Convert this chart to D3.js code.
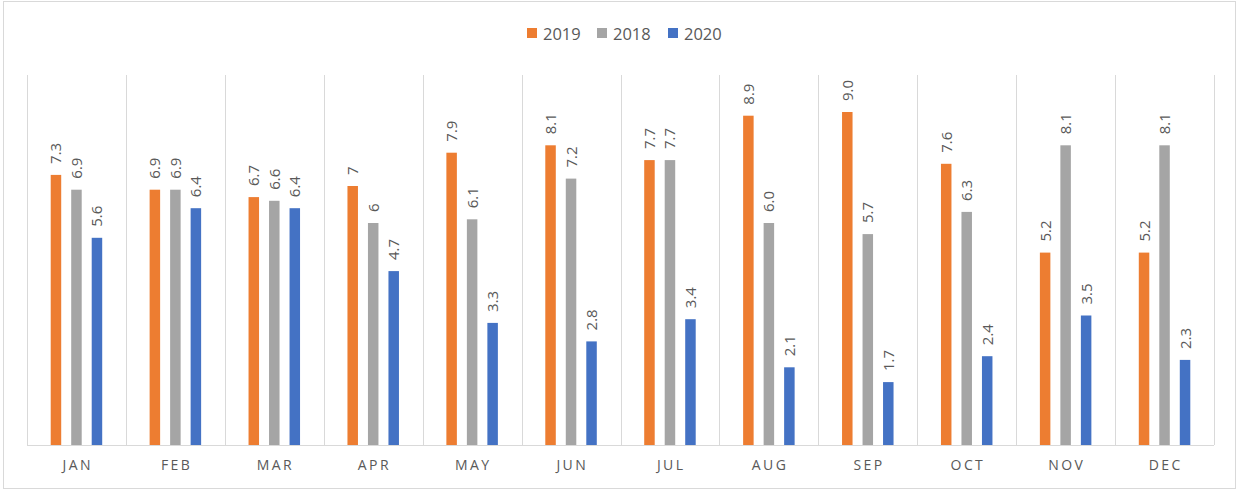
<!DOCTYPE html>
<html>
<head>
<meta charset="utf-8">
<script src="https://cdn.jsdelivr.net/npm/d3@7"></script>
<style>
  html, body { margin: 0; padding: 0; background: #fff; }
  svg { display: block; font-family: "Open Sans", "Liberation Sans", sans-serif; }
</style>
</head>
<body>
<svg id="chart" width="1239" height="491"></svg>
<script>
// Monthly values per year
const months = ["JAN", "FEB", "MAR", "APR", "MAY", "JUN", "JUL", "AUG", "SEP", "OCT", "NOV", "DEC"];
const seriesNames = ["2019", "2018", "2020"];
const values2019 = [7.3, 6.9, 6.7, 7, 7.9, 8.1, 7.7, 8.9, 9.0, 7.6, 5.2, 5.2];
const values2018 = [6.9, 6.9, 6.6, 6, 6.1, 7.2, 7.7, 6.0, 5.7, 6.3, 8.1, 8.1];
const values2020 = [5.6, 6.4, 6.4, 4.7, 3.3, 2.8, 3.4, 2.1, 1.7, 2.4, 3.5, 2.3];
const labels2019 = ["7.3", "6.9", "6.7", "7", "7.9", "8.1", "7.7", "8.9", "9.0", "7.6", "5.2", "5.2"];
const labels2018 = ["6.9", "6.9", "6.6", "6", "6.1", "7.2", "7.7", "6.0", "5.7", "6.3", "8.1", "8.1"];
const labels2020 = ["5.6", "6.4", "6.4", "4.7", "3.3", "2.8", "3.4", "2.1", "1.7", "2.4", "3.5", "2.3"];
const yDomain = [0, 10];

const colors = ["#ED7D31", "#A5A5A5", "#4472C4"];
const series = [
  { name: seriesNames[0], values: values2019, labels: labels2019, color: colors[0] },
  { name: seriesNames[1], values: values2018, labels: labels2018, color: colors[1] },
  { name: seriesNames[2], values: values2020, labels: labels2020, color: colors[2] }
];

const svg = d3.select("#chart");
const plot = { left: 27, right: 1214, top: 75, bottom: 445 };

// Outer chart border
svg.append("rect")
  .attr("x", 3.5).attr("y", 1.5)
  .attr("width", 1232).attr("height", 487)
  .attr("fill", "#fff")
  .attr("stroke", "#D9D9D9").attr("stroke-width", 1);

const x = d3.scaleBand().domain(months).range([plot.left, plot.right]).padding(0);
const y = d3.scaleLinear().domain(yDomain).range([plot.bottom, plot.top]);
const barW = 10.5;
const barGap = 10;
const groupW = barW * 3 + barGap * 2;

// Vertical category separators
const edges = months.map(m => x(m)).concat([plot.right]);
svg.append("g").selectAll("line")
  .data(edges)
  .join("line")
  .attr("x1", d => Math.round(d) + 0.5).attr("x2", d => Math.round(d) + 0.5)
  .attr("y1", plot.top).attr("y2", plot.bottom)
  .attr("stroke", "#D9D9D9").attr("stroke-width", 1);

// Baseline
svg.append("line")
  .attr("x1", plot.left).attr("x2", plot.right)
  .attr("y1", plot.bottom + 0.5).attr("y2", plot.bottom + 0.5)
  .attr("stroke", "#D9D9D9").attr("stroke-width", 1);

// Bars and rotated value labels
const barGroups = svg.append("g");
series.forEach((s, si) => {
  const offset = si * (barW + barGap) - groupW / 2;
  const g = barGroups.append("g");
  g.selectAll("rect")
    .data(s.values)
    .join("rect")
    .attr("x", (d, i) => x(months[i]) + x.bandwidth() / 2 + offset)
    .attr("y", d => y(d))
    .attr("width", barW)
    .attr("height", d => y(0) - y(d))
    .attr("fill", s.color);
  g.selectAll("text")
    .data(s.values)
    .join("text")
    .attr("transform", (d, i) => {
      const cx = x(months[i]) + x.bandwidth() / 2 + offset + barW / 2 + 5.5;
      return `translate(${cx},${y(d) - 11}) rotate(-90)`;
    })
    .attr("text-anchor", "start")
    .attr("font-size", 15)
    .attr("fill", "#595959")
    .text((d, i) => s.labels[i]);
});

// Category axis labels
const xAxis = d3.axisBottom(x).tickSize(0).tickPadding(0);
const axisG = svg.append("g")
  .attr("transform", `translate(0,${plot.bottom + 25})`)
  .call(xAxis);
axisG.select(".domain").remove();
axisG.selectAll("text")
  .attr("font-size", 14)
  .attr("font-family", "\"Open Sans\", \"Liberation Sans\", sans-serif")
  .attr("fill", "#595959")
  .attr("letter-spacing", "2.4px")
  .attr("dx", "1.2px")
  .attr("dy", 0);

// Legend
const legendItems = [
  { name: seriesNames[0], color: colors[0], x: 527 },
  { name: seriesNames[1], color: colors[1], x: 597 },
  { name: seriesNames[2], color: colors[2], x: 668 }
];
const legend = svg.append("g");
legendItems.forEach(it => {
  legend.append("rect")
    .attr("x", it.x).attr("y", 28)
    .attr("width", 10).attr("height", 10)
    .attr("fill", it.color);
  legend.append("text")
    .attr("x", it.x + 16).attr("y", 39.5)
    .attr("font-size", 16.5)
    .attr("fill", "#595959")
    .text(it.name);
});
</script>
</body>
</html>
